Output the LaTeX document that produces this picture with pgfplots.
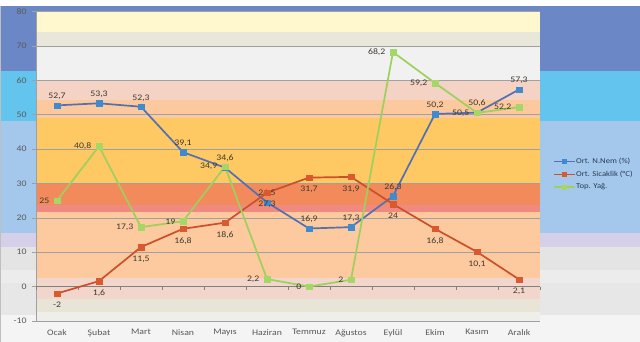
\documentclass[border=0pt]{standalone}
\usepackage{fontspec}
\setmainfont{Carlito}[FakeStretch=1.15]
\usepackage{pgfplots}
\pgfplotsset{compat=1.18}

% page background bands
\definecolor{bgdark}{HTML}{6B87C6}
\definecolor{bgsky}{HTML}{63C4EE}
\definecolor{bglight}{HTML}{A4C8EC}
\definecolor{bglav}{HTML}{D6CFEA}
\definecolor{bggrayA}{HTML}{E4E4E5}
\definecolor{bggrayB}{HTML}{ECECEC}
\definecolor{bggrayC}{HTML}{E7E7E7}
\definecolor{bgbottom}{HTML}{F4F4F4}
% plot area bands
\definecolor{pyellow}{HTML}{FFF8CF}
\definecolor{pbeige}{HTML}{E9E6DA}
\definecolor{pwhite}{HTML}{F1F1F1}
\definecolor{ppink}{HTML}{F4D2C4}
\definecolor{ppeach}{HTML}{FCC89E}
\definecolor{porange}{HTML}{FEC862}
\definecolor{pdark}{HTML}{F28A5B}
\definecolor{pred}{HTML}{F08A80}
\definecolor{ppeachB}{HTML}{FDC99E}
\definecolor{ppinkB}{HTML}{F2D5CB}
\definecolor{pgrayB}{HTML}{E8E4D6}
\definecolor{plight}{HTML}{EEEEEA}
% series
\definecolor{nemline}{HTML}{5371B2}
\definecolor{nemmark}{HTML}{408BD0}
\definecolor{sicline}{HTML}{CC4F2B}
\definecolor{sicmark}{HTML}{D85A2E}
\definecolor{yagline}{HTML}{9DD05C}
\definecolor{yagmark}{HTML}{A6D766}
% text and rules
\definecolor{lblc}{HTML}{595959}
\definecolor{valc}{HTML}{3F3A30}
\definecolor{legc}{HTML}{2B3A55}
\definecolor{gridc}{HTML}{A0A0A0}

\begin{document}
\begin{tikzpicture}
\path[use as bounding box] (0pt,0pt) rectangle (640pt,342pt);
\fill[white] (0pt,0pt) rectangle (640pt,342pt);
% outer bands
\fill[bgdark]   (0pt,336pt) rectangle (640pt,271pt);
\fill[bgsky]    (0pt,271pt) rectangle (640pt,221pt);
\fill[bglight]  (0pt,221pt) rectangle (640pt,109pt);
\fill[bglav]    (0pt,109pt) rectangle (640pt,95pt);
\fill[bggrayA]  (0pt,95pt)  rectangle (640pt,72pt);
\fill[bggrayB]  (0pt,72pt)  rectangle (640pt,59pt);
\fill[bggrayC]  (0pt,59pt)  rectangle (640pt,27pt);
\fill[bgbottom] (0pt,27pt)  rectangle (640pt,0pt);
\fill[bgbottom] (36pt,0pt)  rectangle (540pt,21pt);
\draw[gray!50, line width=1pt] (0.5pt,0pt) -- (0.5pt,336pt);
% plot area bands (80 at 330.5pt, -10 at 21pt)
\fill[pyellow] (36pt,330.5pt) rectangle (540pt,309.9pt);
\fill[pbeige]  (36pt,309.9pt) rectangle (540pt,296.1pt);
\fill[pwhite]  (36pt,296.1pt) rectangle (540pt,261.7pt);
\fill[ppink]   (36pt,261.7pt) rectangle (540pt,242.1pt);
\fill[ppeach]  (36pt,242.1pt) rectangle (540pt,223.9pt);
\fill[porange] (36pt,223.9pt) rectangle (540pt,158.6pt);
\fill[pdark]   (36pt,158.6pt) rectangle (540pt,136.9pt);
\fill[pred]    (36pt,136.9pt) rectangle (540pt,130.0pt);
\fill[ppeachB] (36pt,130.0pt) rectangle (540pt,64.0pt);
\fill[ppinkB]  (36pt,64.0pt)  rectangle (540pt,43.0pt);
\fill[pgrayB]  (36pt,43.0pt)  rectangle (540pt,29.9pt);
\fill[plight]  (36pt,29.9pt)  rectangle (540pt,21pt);

\begin{axis}[
  at={(36pt,21pt)}, anchor=south west,
  scale only axis, width=504pt, height=309.5pt,
  clip=false,
  xmin=-0.5, xmax=11.5, ymin=-10, ymax=80,
  axis lines*=left,
  x axis line style={draw=none},
  y axis line style={draw=gridc, line width=0.6pt},
  xtick={0,...,11},
  xticklabels={Ocak,Şubat,Mart,Nisan,Mayıs,Haziran,Temmuz,Ağustos,Eylül,Ekim,Kasım,Aralık},
  xtick style={draw=none},
  ytick={-10,0,...,80},
  ytick style={draw=gridc, line width=0.6pt},
  tick align=outside, major tick length=4pt,
  ymajorgrids, grid style={draw=gridc, line width=0.5pt},
  /pgf/number format/assume math mode=true,
  /pgf/number format/use comma,
  ticklabel style={font=\fontsize{8.5}{10}\selectfont, text=lblc},
  xticklabel style={yshift=-1pt},
  yticklabel style={xshift=-2pt},
  nodes near coords,
  every node near coord/.append style={font=\fontsize{8.5}{10}\selectfont, text=valc, inner sep=0.5pt},
  legend style={at={(axis description cs:1.026,0.475)}, anchor=west,
    draw=none, fill=none, inner sep=0pt, row sep=5pt,
    font=\fontsize{7.5}{8}\selectfont, text=legc,
    nodes={inner sep=0.5pt}},
  legend cell align=left,
  legend image code/.code={
    \draw[#1, line width=1.3pt] (0pt,0pt) -- (21pt,0pt);
    \draw[#1, mark size=2pt] plot coordinates {(10.5pt,0pt)};
  },
]
% horizontal axis through zero with ticks between the months
\draw[gridc!80!black, line width=0.6pt] (axis cs:-0.5,0) -- (axis cs:11.5,0);
\pgfplotsinvokeforeach{-0.5,0.5,1.5,2.5,3.5,4.5,5.5,6.5,7.5,8.5,9.5,10.5,11.5}{
  \draw[gridc!80!black, line width=0.6pt] (axis cs:#1,0) -- ++(0pt,-3.5pt);
}

% Ort. N.Nem (%)
\addplot[nemline, line width=1.7pt, mark=square*, mark size=2.7pt,
  mark options={solid, line width=0.3pt, draw=nemmark, fill=nemmark},
  every node near coord/.append style={anchor=south, yshift=5pt}]
  coordinates {(0,52.7) (1,53.3) (2,52.3) (3,39.1) (4,34.6) (5,24.5)
               (6,16.9) (7,17.3) (8,26.3) (9,50.2) (10,50.6) (11,57.3)};
\addlegendentry{Ort. N.Nem (\%)}

% Ort. Sıcaklık (°C)
\addplot[sicline, line width=1.7pt, mark=square*, mark size=2.7pt,
  mark options={solid, line width=0.3pt, draw=sicmark, fill=sicmark},
  every node near coord/.append style={anchor=north, yshift=-8pt}]
  coordinates {(0,-2) (1,1.6) (2,11.5) (3,16.8) (4,18.6) (5,27.3)
               (6,31.7) (7,31.9) (8,24) (9,16.8) (10,10.1) (11,2.1)};
\addlegendentry{Ort. Sicaklik (°C)}

% Top. Yağ.
\addplot[yagline, line width=1.7pt, mark=square*, mark size=2.7pt,
  mark options={solid, line width=0.3pt, draw=yagmark, fill=yagmark},
  every node near coord/.append style={anchor=east, xshift=-7pt}]
  coordinates {(0,25) (1,40.8) (2,17.3) (3,19) (4,34.9) (5,2.2)
               (6,0) (7,2) (8,68.2) (9,59.2) (10,50.5) (11,52.2)};
\addlegendentry{Top. Yağ.}
\end{axis}
\end{tikzpicture}
\end{document}
